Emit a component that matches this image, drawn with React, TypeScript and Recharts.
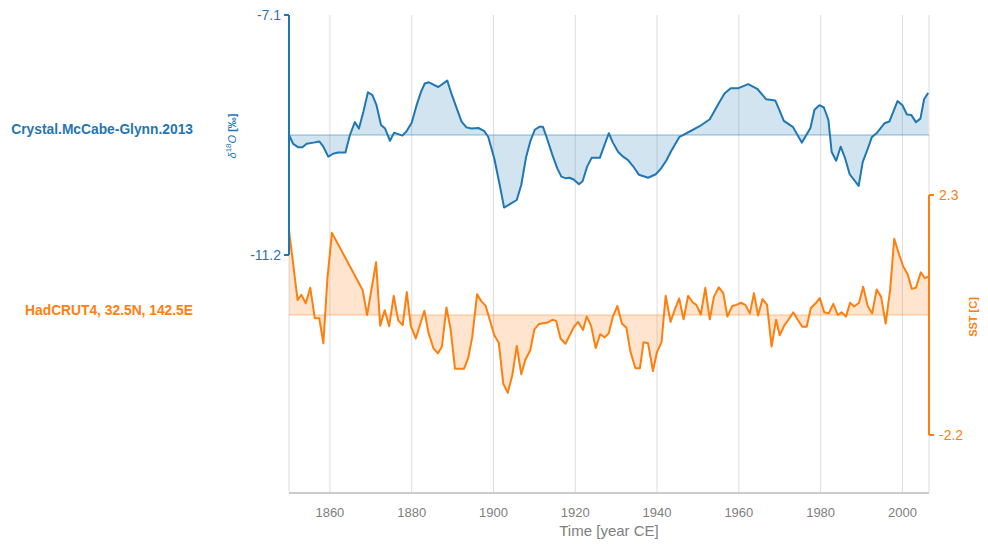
import React from 'react';
import { ComposedChart, Area, XAxis, YAxis, CartesianGrid, ReferenceLine } from 'recharts';

const d18oTime = [
  1850.0, 1851.0, 1852.3, 1853.3, 1854.3, 1856.0, 1857.4, 1858.4, 1859.6, 1860.8,
  1862.0, 1863.8, 1864.9, 1866.1, 1867.1, 1868.2, 1869.3, 1870.4, 1871.4, 1872.5,
  1873.5, 1874.7, 1875.7, 1877.7, 1878.7, 1880.0, 1881.2, 1882.3, 1883.2, 1884.2,
  1886.5, 1888.7, 1889.7, 1891.0, 1892.2, 1893.4, 1894.6, 1896.3, 1897.7, 1898.7,
  1900.2, 1901.6, 1902.6, 1905.7, 1906.8, 1908.0, 1909.0, 1910.1, 1911.2, 1912.1,
  1913.1, 1914.4, 1915.6, 1916.6, 1917.7, 1918.6, 1919.6, 1920.9, 1921.8, 1922.9,
  1924.0, 1926.0, 1928.2, 1929.2, 1930.5, 1931.7, 1932.9, 1934.1, 1935.6, 1937.8,
  1939.7, 1941.0, 1942.3, 1943.5, 1945.5, 1947.2, 1950.4, 1952.9, 1955.3, 1956.5,
  1958.0, 1959.9, 1962.3, 1964.5, 1966.7, 1968.9, 1969.9, 1971.0, 1973.2, 1975.4,
  1976.5, 1977.5, 1978.5, 1979.7, 1980.8, 1981.9, 1982.7, 1983.8, 1984.9, 1986.0,
  1987.1, 1989.3, 1990.3, 1991.4, 1992.5, 1993.8, 1995.6, 1996.8, 1998.8, 2000.0,
  2001.1, 2002.2, 2003.3, 2004.4, 2005.3, 2006.3,
];
const d18oValue = [
  -9.15, -9.30, -9.36, -9.36, -9.30, -9.28, -9.26, -9.35, -9.52, -9.47,
  -9.45, -9.45, -9.15, -8.93, -9.04, -8.75, -8.42, -8.47, -8.64, -8.98,
  -9.04, -9.25, -9.11, -9.16, -9.09, -8.94, -8.64, -8.41, -8.27, -8.25,
  -8.33, -8.22, -8.44, -8.69, -8.92, -9.02, -9.04, -9.03, -9.08, -9.18,
  -9.55, -10.03, -10.39, -10.26, -10.00, -9.52, -9.26, -9.06, -9.01, -9.01,
  -9.21, -9.49, -9.72, -9.86, -9.89, -9.88, -9.91, -9.99, -9.94, -9.69,
  -9.54, -9.54, -9.12, -9.28, -9.44, -9.52, -9.58, -9.68, -9.83, -9.88,
  -9.82, -9.72, -9.58, -9.42, -9.18, -9.12, -9.00, -8.88, -8.58, -8.44,
  -8.35, -8.35, -8.28, -8.36, -8.54, -8.56, -8.72, -8.91, -9.01, -9.28,
  -9.15, -9.03, -8.72, -8.64, -8.68, -8.89, -9.44, -9.59, -9.35, -9.55,
  -9.82, -10.02, -9.61, -9.41, -9.19, -9.11, -8.95, -8.92, -8.57, -8.64,
  -8.80, -8.81, -8.93, -8.87, -8.54, -8.43,
];

const sstTime = [
  1850.0, 1852.1, 1853.0, 1854.1, 1855.2, 1856.3, 1857.4, 1858.4, 1859.4, 1860.5,
  1868.0, 1869.1, 1871.3, 1872.3, 1873.4, 1874.5, 1875.6, 1876.7, 1877.8, 1878.8,
  1879.8, 1881.0, 1883.1, 1884.1, 1885.3, 1886.4, 1887.4, 1888.5, 1889.5, 1890.6,
  1892.8, 1893.8, 1894.8, 1896.0, 1897.0, 1898.1, 1900.2, 1901.3, 1902.4, 1903.5,
  1904.6, 1905.7, 1906.8, 1907.8, 1909.0, 1910.0, 1911.1, 1913.3, 1914.4, 1915.3,
  1916.4, 1917.6, 1918.6, 1919.7, 1920.7, 1921.9, 1922.8, 1923.9, 1925.0, 1926.1,
  1927.2, 1928.2, 1929.2, 1930.3, 1931.4, 1932.5, 1933.5, 1934.7, 1935.8, 1936.7,
  1937.8, 1939.0, 1940.0, 1941.1, 1942.1, 1943.3, 1944.3, 1945.4, 1946.5, 1947.6,
  1948.7, 1949.6, 1950.7, 1951.8, 1952.9, 1953.9, 1955.1, 1956.2, 1957.2, 1958.4,
  1959.4, 1960.5, 1961.6, 1962.7, 1963.7, 1964.7, 1965.8, 1966.9, 1968.0, 1969.1,
  1970.0, 1971.1, 1972.2, 1973.3, 1974.4, 1975.5, 1976.6, 1977.6, 1978.8, 1979.8,
  1980.9, 1982.0, 1983.1, 1984.2, 1985.1, 1986.2, 1987.2, 1988.2, 1989.4, 1990.4,
  1991.5, 1992.6, 1993.7, 1994.8, 1995.9, 1997.0, 1998.0, 1999.2, 2000.2, 2001.3,
  2002.3, 2003.3, 2004.5, 2005.5, 2006.4,
];
const sstValue = [
  1.64, 0.33, 0.43, 0.27, 0.56, -0.01, -0.01, -0.48, 0.74, 1.59,
  0.52, 0.05, 1.04, -0.15, 0.14, -0.16, 0.41, -0.05, -0.14, 0.48,
  -0.16, -0.39, 0.13, -0.28, -0.57, -0.67, -0.54, 0.19, -0.21, -0.96,
  -0.96, -0.76, -0.37, 0.44, 0.31, 0.22, -0.33, -0.47, -1.24, -1.41,
  -1.08, -0.53, -1.06, -0.79, -0.61, -0.22, -0.12, -0.09, -0.04, -0.06,
  -0.39, -0.49, -0.34, -0.17, -0.08, -0.23, 0.02, -0.16, -0.57, -0.31,
  -0.37, -0.29, 0.02, 0.22, -0.11, -0.19, -0.64, -0.95, -0.95, -0.46,
  -0.48, -1.00, -0.64, -0.46, 0.41, -0.08, 0.14, 0.36, -0.03, 0.41,
  0.29, 0.24, 0.06, 0.56, -0.03, 0.39, 0.57, 0.46, 0.02, 0.22,
  0.24, 0.28, 0.24, 0.08, 0.46, 0.04, 0.35, 0.24, -0.54, -0.04,
  -0.33, -0.15, -0.03, 0.10, -0.04, -0.17, -0.17, 0.18, 0.27, 0.37,
  0.10, 0.08, 0.26, 0.05, 0.10, 0.02, 0.28, 0.21, 0.28, 0.58,
  0.22, 0.08, 0.53, 0.39, -0.11, 0.52, 1.48, 1.18, 0.96, 0.81,
  0.54, 0.56, 0.85, 0.74, 0.77,
];

const xTicks = [1860, 1880, 1900, 1920, 1940, 1960, 1980, 2000];
const xDomain = [1850, 2006.5];
const d18oTicks = [-11.2, -7.1];
const d18oDomain = [-15.265, -7.1];
const d18oBase = -9.15;
const sstTicks = [-2.2, 2.3];
const sstDomain = [-3.2875, 5.675];
const sstBase = 0.05;

const d18oData = d18oTime.map((t, i) => ({ time: t, d18o: d18oValue[i] }));
const sstData = sstTime.map((t, i) => ({ time: t, sst: sstValue[i] }));

const BLUE = '#1f77b4';
const ORANGE = '#ff7f0e';
const GRAY = '#808080';
const FONT = '"Liberation Sans", Arial, Helvetica, sans-serif';

const W = 980;
const H = 540;

export default function App() {
  return (
    <div style={{ position: 'relative', width: W, height: H, fontFamily: FONT }}>
      <ComposedChart width={W} height={H} margin={{ top: 7, right: 0, bottom: 0, left: 0 }}>
        <CartesianGrid yAxisId="left" horizontal={false} stroke="#dddddd" strokeWidth={1} />
        <XAxis
          dataKey="time"
          type="number"
          domain={xDomain}
          ticks={xTicks}
          allowDataOverflow
          interval={0}
          height={55}
          tickLine={false}
          tickSize={6}
          tickMargin={9}
          axisLine={{ stroke: '#cccccc', strokeWidth: 2 }}
          tick={{ fill: GRAY, fontSize: 13, fontFamily: FONT }}
        />
        <YAxis
          yAxisId="left"
          orientation="left"
          type="number"
          width={281}
          domain={d18oDomain}
          ticks={d18oTicks}
          allowDataOverflow
          interval={0}
          axisLine={false}
          tickLine={{ stroke: BLUE, strokeWidth: 2 }}
          tickSize={5}
          tickMargin={3}
          tick={{ fill: BLUE, fontSize: 14, fontFamily: FONT }}
        />
        <YAxis
          yAxisId="right"
          orientation="right"
          type="number"
          width={59}
          domain={sstDomain}
          ticks={sstTicks}
          allowDataOverflow
          interval={0}
          axisLine={false}
          tickLine={{ stroke: ORANGE, strokeWidth: 2 }}
          tickSize={5}
          tickMargin={5}
          tick={{ fill: ORANGE, fontSize: 14, fontFamily: FONT }}
        />
        <ReferenceLine yAxisId="left" y={d18oBase} stroke={BLUE} strokeOpacity={0.35} strokeWidth={1.5} />
        <ReferenceLine yAxisId="right" y={sstBase} stroke={ORANGE} strokeOpacity={0.3} strokeWidth={1.5} />
        <Area
          yAxisId="left"
          data={d18oData}
          dataKey="d18o"
          type="linear"
          baseValue={d18oBase}
          stroke={BLUE}
          strokeWidth={2}
          strokeLinejoin="round"
          fill={BLUE}
          fillOpacity={0.2}
          dot={false}
          activeDot={false}
          isAnimationActive={false}
        />
        <Area
          yAxisId="right"
          data={sstData}
          dataKey="sst"
          type="linear"
          baseValue={sstBase}
          stroke={ORANGE}
          strokeWidth={2}
          strokeLinejoin="round"
          fill={ORANGE}
          fillOpacity={0.2}
          dot={false}
          activeDot={false}
          isAnimationActive={false}
        />
        <ReferenceLine
          yAxisId="left"
          segment={[{ x: xDomain[0], y: d18oTicks[1] }, { x: xDomain[0], y: d18oTicks[0] }]}
          stroke={BLUE}
          strokeWidth={2}
          ifOverflow="visible"
        />
        <ReferenceLine
          yAxisId="right"
          segment={[{ x: xDomain[1], y: sstTicks[1] }, { x: xDomain[1], y: sstTicks[0] }]}
          stroke={ORANGE}
          strokeWidth={2}
          ifOverflow="visible"
        />
      </ComposedChart>
      <svg
        width={W}
        height={H}
        style={{ position: 'absolute', left: 0, top: 0, pointerEvents: 'none' }}
      >
        <text x={185} y={121} textAnchor="end" dominantBaseline="central" fill={BLUE} fontSize={13.8} fontWeight="bold" fontFamily={FONT}>
          Crystal.McCabe-Glynn.2013
        </text>
        <text x={185} y={302} textAnchor="end" dominantBaseline="central" fill={ORANGE} fontSize={13.8} fontWeight="bold" fontFamily={FONT}>
          HadCRUT4, 32.5N, 142.5E
        </text>
        <text
          transform="translate(224,128) rotate(-90)"
          textAnchor="middle"
          dominantBaseline="central"
          fill={BLUE}
          fontSize={11}
          fontFamily={FONT}
        >
          <tspan fontStyle="italic">δ</tspan>
          <tspan fontSize={8} dy={-4}>18</tspan>
          <tspan fontStyle="italic" dy={4}>O</tspan>
          <tspan fontWeight="bold"> [‰]</tspan>
        </text>
        <text
          transform="translate(965,309) rotate(-90)"
          textAnchor="middle"
          dominantBaseline="central"
          fill={ORANGE}
          fontSize={11}
          fontWeight="bold"
          fontFamily={FONT}
        >
          SST [C]
        </text>
        <text x={601} y={522} textAnchor="middle" dominantBaseline="central" fill={GRAY} fontSize={15} fontFamily={FONT}>
          Time [year CE]
        </text>
      </svg>
    </div>
  );
}
